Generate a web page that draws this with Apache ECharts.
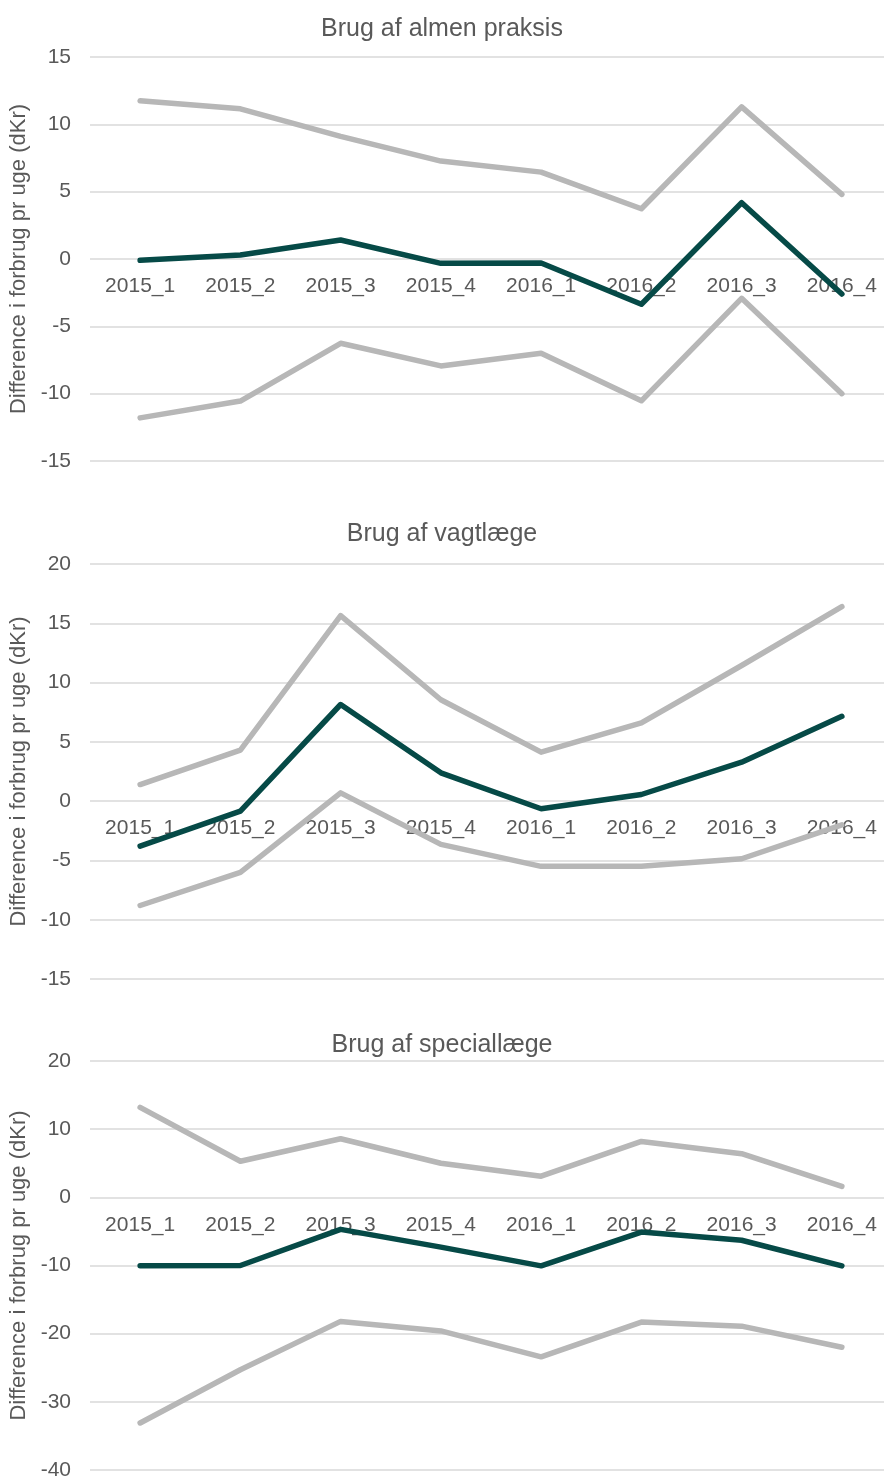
<!DOCTYPE html>
<html>
<head>
<meta charset="utf-8">
<script src="https://cdn.jsdelivr.net/npm/echarts@6/dist/echarts.min.js"></script>
<style>
html,body{margin:0;padding:0;background:#fff;}
#chart{width:884px;height:1479px;}
</style>
</head>
<body>
<div id="chart"></div>
<script>
var categories = ['2015_1','2015_2','2015_3','2015_4','2016_1','2016_2','2016_3','2016_4'];
var titles = ['Brug af almen praksis','Brug af vagtlæge','Brug af speciallæge'];
var yAxisName = 'Difference i forbrug pr uge (dKr)';

// Panel 1: Brug af almen praksis
var almenUpper  = [11.75, 11.15, 9.1, 7.27, 6.45, 3.73, 11.3, 4.8];
var almenMid    = [-0.1, 0.3, 1.41, -0.32, -0.3, -3.36, 4.18, -2.6];
var almenLower  = [-11.8, -10.55, -6.26, -7.94, -7.0, -10.53, -2.92, -10.0];

// Panel 2: Brug af vagtlæge
var vagtUpper   = [1.4, 4.3, 15.65, 8.55, 4.13, 6.61, 11.44, 16.4];
var vagtMid     = [-3.8, -0.85, 8.15, 2.39, -0.64, 0.56, 3.29, 7.15];
var vagtLower   = [-8.8, -6.0, 0.7, -3.65, -5.5, -5.5, -4.86, -2.0];

// Panel 3: Brug af speciallæge
var specUpper   = [13.2, 5.3, 8.6, 5.0, 3.1, 8.2, 6.4, 1.6];
var specMid     = [-10.05, -10.0, -4.7, -7.3, -10.05, -5.1, -6.3, -10.05];
var specLower   = [-33.1, -25.3, -18.2, -19.6, -23.4, -18.3, -18.9, -22.0];

var yMin = [-15, -15, -40];
var yMax = [15, 20, 20];
var yInterval = [5, 5, 10];

var panels = [
  [almenUpper, almenMid, almenLower],
  [vagtUpper, vagtMid, vagtLower],
  [specUpper, specMid, specLower]
];

var FONT = '"Liberation Sans", Arial, sans-serif';
var TXT = '#595959';
var GRIDC = '#d9d9d9';
var DARK = '#064a47';
var GRAY = '#b7b7b7';

var gridPos = [
  {top: 57, height: 404},
  {top: 564, height: 415},
  {top: 1061, height: 409}
];
var titleTops = [17, 522, 1033];

var option = {
  animation: false,
  backgroundColor: '#fff',
  title: [], grid: [], xAxis: [], yAxis: [], series: []
};

for (var i = 0; i < 3; i++) {
  // place the category axis on the zero line of the value axis
  var zeroOffset = -gridPos[i].height * (0 - yMin[i]) / (yMax[i] - yMin[i]);
  option.title.push({
    text: titles[i], left: 'center', top: titleTops[i], padding: 0,
    textStyle: {color: TXT, fontSize: 25, fontWeight: 'normal', fontFamily: FONT}
  });
  option.grid.push({left: 90, right: -8, top: gridPos[i].top, height: gridPos[i].height,
    containLabel: false, outerBoundsMode: 'none'});
  option.xAxis.push({
    type: 'category', gridIndex: i, data: categories, boundaryGap: true,
    position: 'bottom', offset: zeroOffset,
    axisLine: {show: false, onZero: false},
    axisTick: {show: false},
    axisLabel: {interval: 0, color: TXT, fontSize: 21, fontFamily: FONT, margin: 17},
    splitLine: {show: false}
  });
  option.yAxis.push({
    type: 'value', gridIndex: i, min: yMin[i], max: yMax[i], interval: yInterval[i],
    name: yAxisName, nameLocation: 'middle', nameGap: 54,
    nameTextStyle: {color: TXT, fontSize: 22, fontFamily: FONT},
    axisLine: {show: false}, axisTick: {show: false},
    axisLabel: {color: TXT, fontSize: 21, fontFamily: FONT, margin: 19},
    splitLine: {show: true, lineStyle: {color: GRIDC, width: 1.5}}
  });
  var cols = [GRAY, DARK, GRAY];
  for (var s = 0; s < 3; s++) {
    option.series.push({
      type: 'line', xAxisIndex: i, yAxisIndex: i, data: panels[i][s],
      symbol: 'none', smooth: false, z: s === 1 ? 4 : 3,
      lineStyle: {color: cols[s], width: 5.5, cap: 'round', join: 'round'}
    });
  }
}

var chart = echarts.init(document.getElementById('chart'), null, {renderer: 'canvas'});
chart.setOption(option);
</script>
</body>
</html>
